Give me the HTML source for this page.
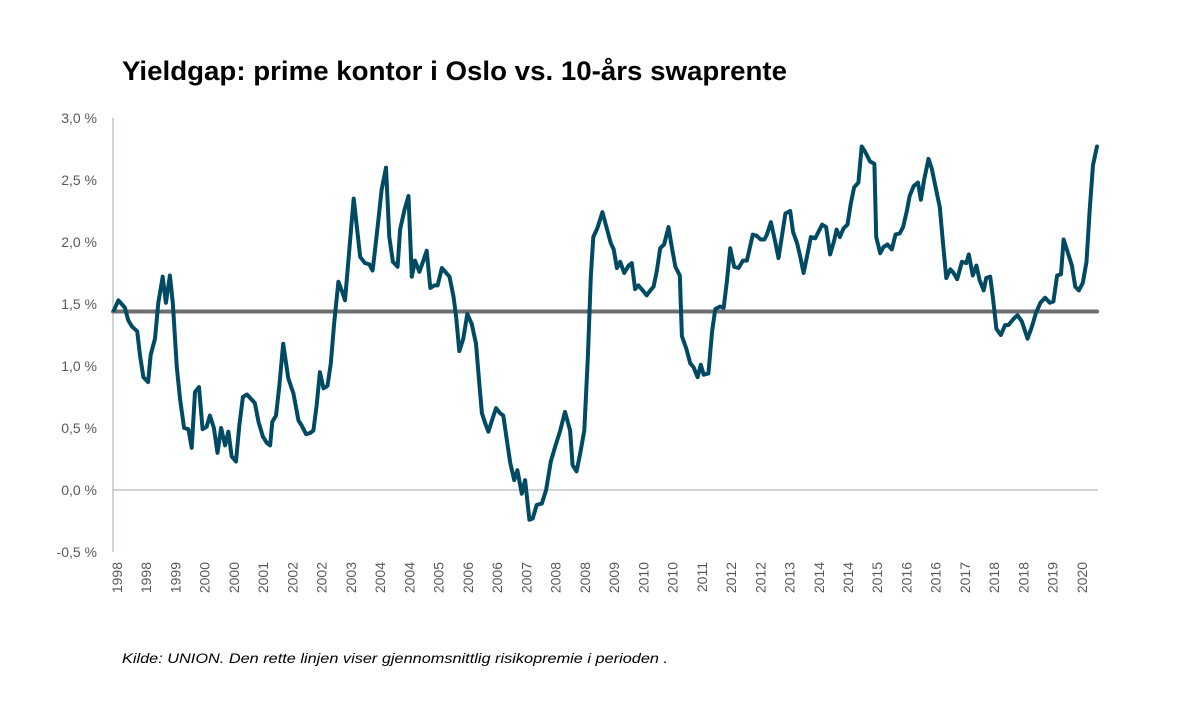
<!DOCTYPE html>
<html><head><meta charset="utf-8">
<style>
body{margin:0;background:#fff;}
svg{display:block;font-family:"Liberation Sans",sans-serif;}
</style></head>
<body>
<svg id="chart" width="1192" height="703" viewBox="0 0 1192 703">
<text x="122" y="80" font-size="27" font-weight="bold" fill="#000" textLength="665" lengthAdjust="spacingAndGlyphs">Yieldgap: prime kontor i Oslo vs. 10-års swaprente</text>
<g id="yaxis"></g>
<g id="xaxis"></g>
<g id="series"></g>
<text x="122" y="663" font-size="14" font-style="italic" fill="#000" textLength="546" lengthAdjust="spacingAndGlyphs">Kilde: UNION. Den rette linjen viser gjennomsnittlig risikopremie i perioden .</text>
</svg>
<script>
const yTicks = [3.0, 2.5, 2.0, 1.5, 1.0, 0.5, 0.0, -0.5];
const yTickLabels = ["3,0 %","2,5 %","2,0 %","1,5 %","1,0 %","0,5 %","0,0 %","-0,5 %"];
const xLabels = ["1998","1998","1999","2000","2000","2001","2002","2002","2003","2004","2004","2005","2006","2006","2007","2008","2008","2009","2010","2010","2011","2012","2012","2013","2014","2014","2015","2016","2016","2017","2018","2018","2019","2020"];
const avgValue = 1.44;
const months = [0,1.2,3.0,3.9,4.9,6.4,7.2,8.1,9.4,10.1,11.3,12.2,13.4,14.3,15.4,16.2,17.3,18.2,19.3,20.5,21.4,22.3,23.4,24.4,25.5,26.4,27.5,28.5,29.5,30.6,31.5,32.4,33.6,34.5,35.5,36.6,37.9,38.8,39.8,41.0,42.1,43.0,43.6,44.6,45.5,46.6,48.0,49.4,50.8,51.7,52.9,54.0,54.9,55.8,56.7,57.7,58.8,59.7,60.6,61.8,62.7,63.6,64.5,65.3,66.0,
67.8,69.1,70.3,71.2,71.9,72.8,73.7,74.9,75.8,76.8,78.1,78.8,80.0,81.1,82.0,82.9,84.1,85.2,86.1,87.1,88.2,89.1,90.3,91.5,92.4,93.5,94.2,95.1,96.2,97.3,98.5,99.7,100.6,101.3,102.2,103.1,104.3,105.2,106.3,107.2,108.2,109.1,110.2,111.1,112.3,113.2,114.4,115.3,116.4,117.8,119.0,120.3,121.5,122.8,124.2,125.6,126.3,127.4,128.4,129.5,130.5,131.3,132.0,133.1,134.5,135.7,136.8,
137.6,138.5,139.4,140.5,141.7,142.6,143.5,144.4,145.6,146.7,147.7,148.6,149.5,150.4,151.5,152.7,153.6,154.6,155.8,156.4,157.6,158.7,159.6,160.7,161.6,162.4,163.7,164.7,165.6,166.9,167.9,168.8,169.7,170.8,172.0,173.2,174.3,175.9,177.0,178.1,179.1,179.8,180.9,182.1,183.0,183.9,184.9,186.2,187.0,188.1,189.0,189.9,190.8,191.9,193.1,195.0,196.1,197.2,198.3,199.0,199.9,200.9,202.0,202.9,203.8,205.0,205.9,206.8,208.2,
209.4,209.9,211.0,211.9,213.0,214.2,215.2,216.4,217.3,218.4,219.1,220.2,221.4,222.2,223.1,224.3,225.2,226.2,227.4,228.3,229.2,230.3,231.2,232.2,233.5,234.7,235.4,236.5,237.5,238.4,239.5,240.2,241.3,242.0,243.0,244.2,245.4,246.3,247.7,248.8,250.0,251.6,252.8,253.9,255.1,256.4,257.7,258.7,259.7,260.8,261.5,262.6,263.8,264.7,265.7,266.8,267.8,268.7,269.6,270.7];
const values = [1.45,1.53,1.47,1.37,1.32,1.28,1.08,0.91,0.87,1.09,1.22,1.51,1.72,1.51,1.73,1.51,0.99,0.73,0.50,0.49,0.34,0.79,0.83,0.49,0.51,0.60,0.50,0.30,0.50,0.36,0.47,0.27,0.23,0.52,0.75,0.77,0.73,0.70,0.55,0.43,0.38,0.36,0.55,0.60,0.83,1.18,0.90,0.78,0.56,0.52,0.45,0.46,0.48,0.68,0.95,0.82,0.84,1.02,1.34,1.68,1.61,1.53,1.83,2.11,2.35,
1.88,1.83,1.82,1.77,1.94,2.18,2.42,2.60,2.04,1.84,1.80,2.10,2.26,2.37,1.72,1.85,1.76,1.85,1.93,1.63,1.65,1.65,1.79,1.75,1.72,1.56,1.40,1.12,1.22,1.42,1.34,1.18,0.86,0.62,0.54,0.47,0.58,0.66,0.62,0.60,0.40,0.22,0.08,0.16,-0.03,0.08,-0.24,-0.23,-0.12,-0.11,0.00,0.23,0.35,0.47,0.63,0.48,0.20,0.15,0.30,0.48,1.08,1.72,2.04,2.11,2.24,2.11,1.99,
1.94,1.79,1.84,1.75,1.81,1.83,1.62,1.65,1.61,1.57,1.61,1.64,1.77,1.95,1.98,2.12,1.96,1.80,1.73,1.24,1.14,1.02,0.99,0.91,1.01,0.93,0.94,1.28,1.46,1.48,1.47,1.69,1.95,1.80,1.79,1.85,1.85,2.06,2.05,2.02,2.02,2.06,2.16,2.00,1.87,2.04,2.23,2.25,2.08,1.99,1.88,1.75,1.88,2.04,2.03,2.14,2.12,1.90,2.01,2.10,2.04,2.11,2.14,2.31,2.44,2.48,2.77,2.73,2.65,
2.63,2.04,1.91,1.96,1.98,1.94,2.06,2.07,2.12,2.26,2.37,2.45,2.48,2.34,2.50,2.67,2.59,2.45,2.28,1.99,1.71,1.78,1.75,1.70,1.84,1.83,1.90,1.73,1.81,1.69,1.61,1.71,1.72,1.56,1.30,1.25,1.33,1.33,1.38,1.41,1.36,1.22,1.32,1.43,1.51,1.55,1.51,1.52,1.73,1.74,2.02,1.92,1.81,1.64,1.61,1.67,1.84,2.26,2.62,2.77];

const NS = "http://www.w3.org/2000/svg";
const X0 = 114, X1 = 1097, MMAX = 270.7;
function xScale(m){ return X0 + (m / MMAX) * (X1 - X0); }
function yScale(v){ return 490 - v * 124; }
function mk(tag, attrs, parent){ const e = document.createElementNS(NS, tag); for (const k in attrs) e.setAttribute(k, attrs[k]); parent.appendChild(e); return e; }

const yaxis = document.getElementById('yaxis');
const al = mk('line', {x1:113, x2:113, y1:yScale(3.0), y2:yScale(-0.5), stroke:'#bfc3c8', 'stroke-width':1.5}, yaxis);


const zl = mk('line', {x1:113, x2:1098, y1:yScale(0), y2:yScale(0), stroke:'#bfc3c8', 'stroke-width':1.5}, yaxis);


yTicks.forEach((t, i) => {
  const tx = mk('text', {x:97, y:yScale(t) + 5, 'text-anchor':'end', 'font-size':14, fill:'#595959'}, yaxis);
  tx.textContent = yTickLabels[i];
  
  
});

const xaxis = document.getElementById('xaxis');
xLabels.forEach((l, i) => {
  const x = 117 + i * 29.24;
  const tx = mk('text', {x:0, y:0, 'text-anchor':'end', 'font-size':14, fill:'#595959', transform:`translate(${x + 5},562) rotate(-90)`}, xaxis);
  tx.textContent = l;
  
  
});

const series = document.getElementById('series');
const avg = mk('line', {x1:113, x2:1097, y1:yScale(avgValue), y2:yScale(avgValue), stroke:'#6e6e70', 'stroke-width':4, 'stroke-linecap':'round'}, series);


const d = months.map((m, i) => (i ? 'L' : 'M') + xScale(m).toFixed(1) + ',' + yScale(values[i]).toFixed(1)).join(' ');
const p = mk('path', {d:d, fill:'none', stroke:'#004a63', 'stroke-width':4, 'stroke-linejoin':'round', 'stroke-linecap':'round'}, series);


</script>
</body></html>
